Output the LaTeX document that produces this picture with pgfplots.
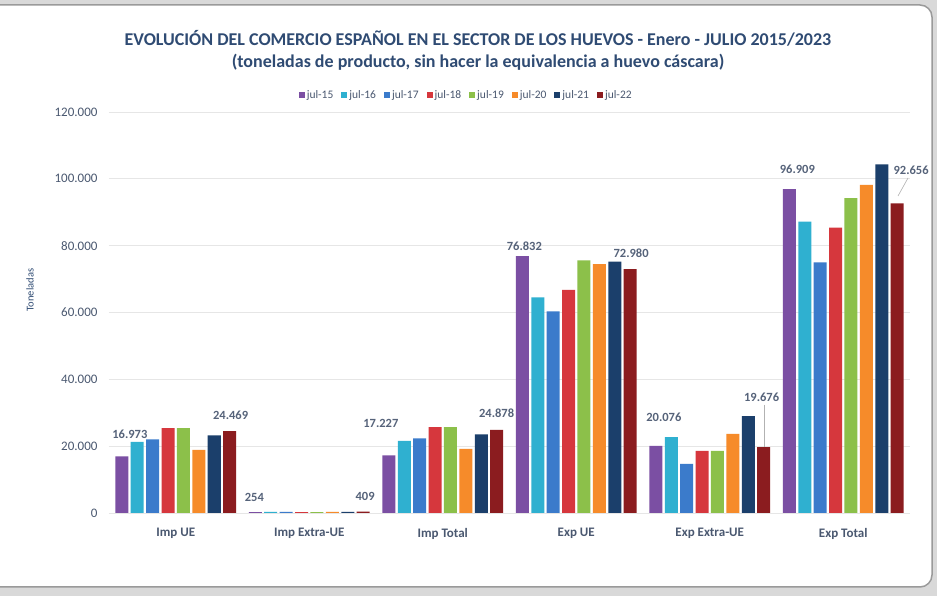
\documentclass[border=0pt]{standalone}
\usepackage{fontspec}
\setmainfont{Carlito}
\usepackage{pgfplots}
\pgfplotsset{compat=1.18}
\usepackage{pgfplotstable}

\definecolor{c15}{HTML}{7B4FA3}
\definecolor{c16}{HTML}{2FB0D0}
\definecolor{c17}{HTML}{3B7BCB}
\definecolor{c18}{HTML}{D6373D}
\definecolor{c19}{HTML}{8CC04A}
\definecolor{c20}{HTML}{F68B2A}
\definecolor{c21}{HTML}{1B3F6B}
\definecolor{c22}{HTML}{8B1C1F}
\definecolor{titlec}{HTML}{2F4B73}
\definecolor{tickc}{HTML}{4A5870}
\definecolor{labc}{HTML}{56637A}
\definecolor{bgc}{HTML}{D9D9D9}
\definecolor{framec}{HTML}{9A9A9A}
\definecolor{gridc}{HTML}{E6E6E6}

% jul-15 (with labels)
\pgfplotstableread{
x y label dx dy
0 16973 16.973 8 22
1 254 254 -1 15
2 17227 17.227 -8 32
3 76832 76.832 2 10
4 20076 20.076 8 29
5 96909 96.909 8 20
}\tA
\pgfplotstableread{
x y
0 21300
1 300
2 21600
3 64500
4 22700
5 87200
}\tB
\pgfplotstableread{
x y
0 22000
1 300
2 22300
3 60300
4 14700
5 75000
}\tC
\pgfplotstableread{
x y
0 25400
1 280
2 25700
3 66800
4 18600
5 85400
}\tD
\pgfplotstableread{
x y
0 25400
1 280
2 25700
3 75600
4 18600
5 94200
}\tE
\pgfplotstableread{
x y
0 18900
1 300
2 19200
3 74500
4 23700
5 98200
}\tF
\pgfplotstableread{
x y
0 23200
1 350
2 23500
3 75200
4 29000
5 104300
}\tG
% jul-22 (with labels)
\pgfplotstableread{
x y label dx dy
0 24469 24.469 1 16
1 409 409 2 15
2 24878 24.878 0 17
3 72980 72.980 1 16
4 19676 19.676 -2 50
5 92656 92.656 14 33
}\tH

\begin{document}
\begin{tikzpicture}
\path[use as bounding box] (-109pt,-83pt) rectangle (828pt,513pt);
\fill[bgc] (-109pt,-83pt) rectangle (828pt,513pt);
\draw[framec, line width=1.5pt, fill=white, rounded corners=12pt] (-129pt,-74pt) rectangle (823pt,508pt);

\node[font=\bfseries\fontsize{18}{21}\selectfont, text=titlec] at (369pt,475pt) {EVOLUCIÓN DEL COMERCIO ESPAÑOL EN EL SECTOR DE LOS HUEVOS - Enero - JULIO 2015/2023};
\node[font=\bfseries\fontsize{18}{21}\selectfont, text=titlec] at (369pt,451pt) {(toneladas de producto, sin hacer la equivalencia a huevo cáscara)};

\begin{axis}[
  at={(0pt,0pt)}, anchor=south west,
  scale only axis, width=801pt, height=401pt,
  ybar=2.4pt, bar width=13pt,
  xmin=-0.5, xmax=5.5, ymin=0, ymax=120000,
  xtick={0,1,2,3,4,5},
  xticklabels={Imp UE, Imp Extra-UE, Imp Total, Exp UE, Exp Extra-UE, Exp Total},
  ytick={0,20000,40000,60000,80000,100000,120000},
  yticklabels={0,20.000,40.000,60.000,80.000,100.000,120.000},
  scaled y ticks=false,
  axis line style={draw=none},
  major tick length=0pt,
  ymajorgrids, grid style={gridc, line width=0.8pt},
  xticklabel style={font=\bfseries\fontsize{13}{15}\selectfont, text=tickc, yshift=-12pt},
  yticklabel style={font=\fontsize{13}{15}\selectfont, text=tickc, xshift=-8pt},
  ylabel={Toneladas},
  ylabel style={font=\fontsize{10.5}{12}\selectfont, text=titlec, at={(axis description cs:-0.0986,0.556)}, anchor=center},
  legend style={at={(axis description cs:0.446,1.02)}, anchor=south, legend columns=8, draw=none, fill=none,
    font=\fontsize{11.5}{13}\selectfont, text=tickc, /tikz/every even column/.append style={column sep=6pt}},
  legend image code/.code={\fill[#1] (0pt,-3pt) rectangle (6pt,3pt);},
  legend cell align=left,
  every axis plot/.append style={draw=none},
]
\addplot[fill=c15, nodes near coords, point meta=explicit symbolic,
  visualization depends on={\thisrow{dx}\as\lbdx},
  visualization depends on={\thisrow{dy}\as\lbdy},
  every node near coord/.append style={anchor=center, xshift=\lbdx pt, yshift=\lbdy pt, font=\bfseries\fontsize{12.5}{15}\selectfont, text=labc}]
  table[x=x,y=y,meta=label]{\tA};
\addplot[fill=c16] table[x=x,y=y]{\tB};
\addplot[fill=c17] table[x=x,y=y]{\tC};
\addplot[fill=c18] table[x=x,y=y]{\tD};
\addplot[fill=c19] table[x=x,y=y]{\tE};
\addplot[fill=c20] table[x=x,y=y]{\tF};
\addplot[fill=c21] table[x=x,y=y]{\tG};
\addplot[fill=c22, nodes near coords, point meta=explicit symbolic,
  visualization depends on={\thisrow{dx}\as\lbdx},
  visualization depends on={\thisrow{dy}\as\lbdy},
  every node near coord/.append style={anchor=center, xshift=\lbdx pt, yshift=\lbdy pt, font=\bfseries\fontsize{12.5}{15}\selectfont, text=labc}]
  table[x=x,y=y,meta=label]{\tH};
\legend{jul-15,jul-16,jul-17,jul-18,jul-19,jul-20,jul-21,jul-22}
\end{axis}
\draw[gray!60, line width=0.6pt] (655pt,108pt) -- (655pt,66pt);
\draw[gray!60, line width=0.6pt] (799pt,335pt) -- (789pt,317pt);
\end{tikzpicture}
\end{document}
